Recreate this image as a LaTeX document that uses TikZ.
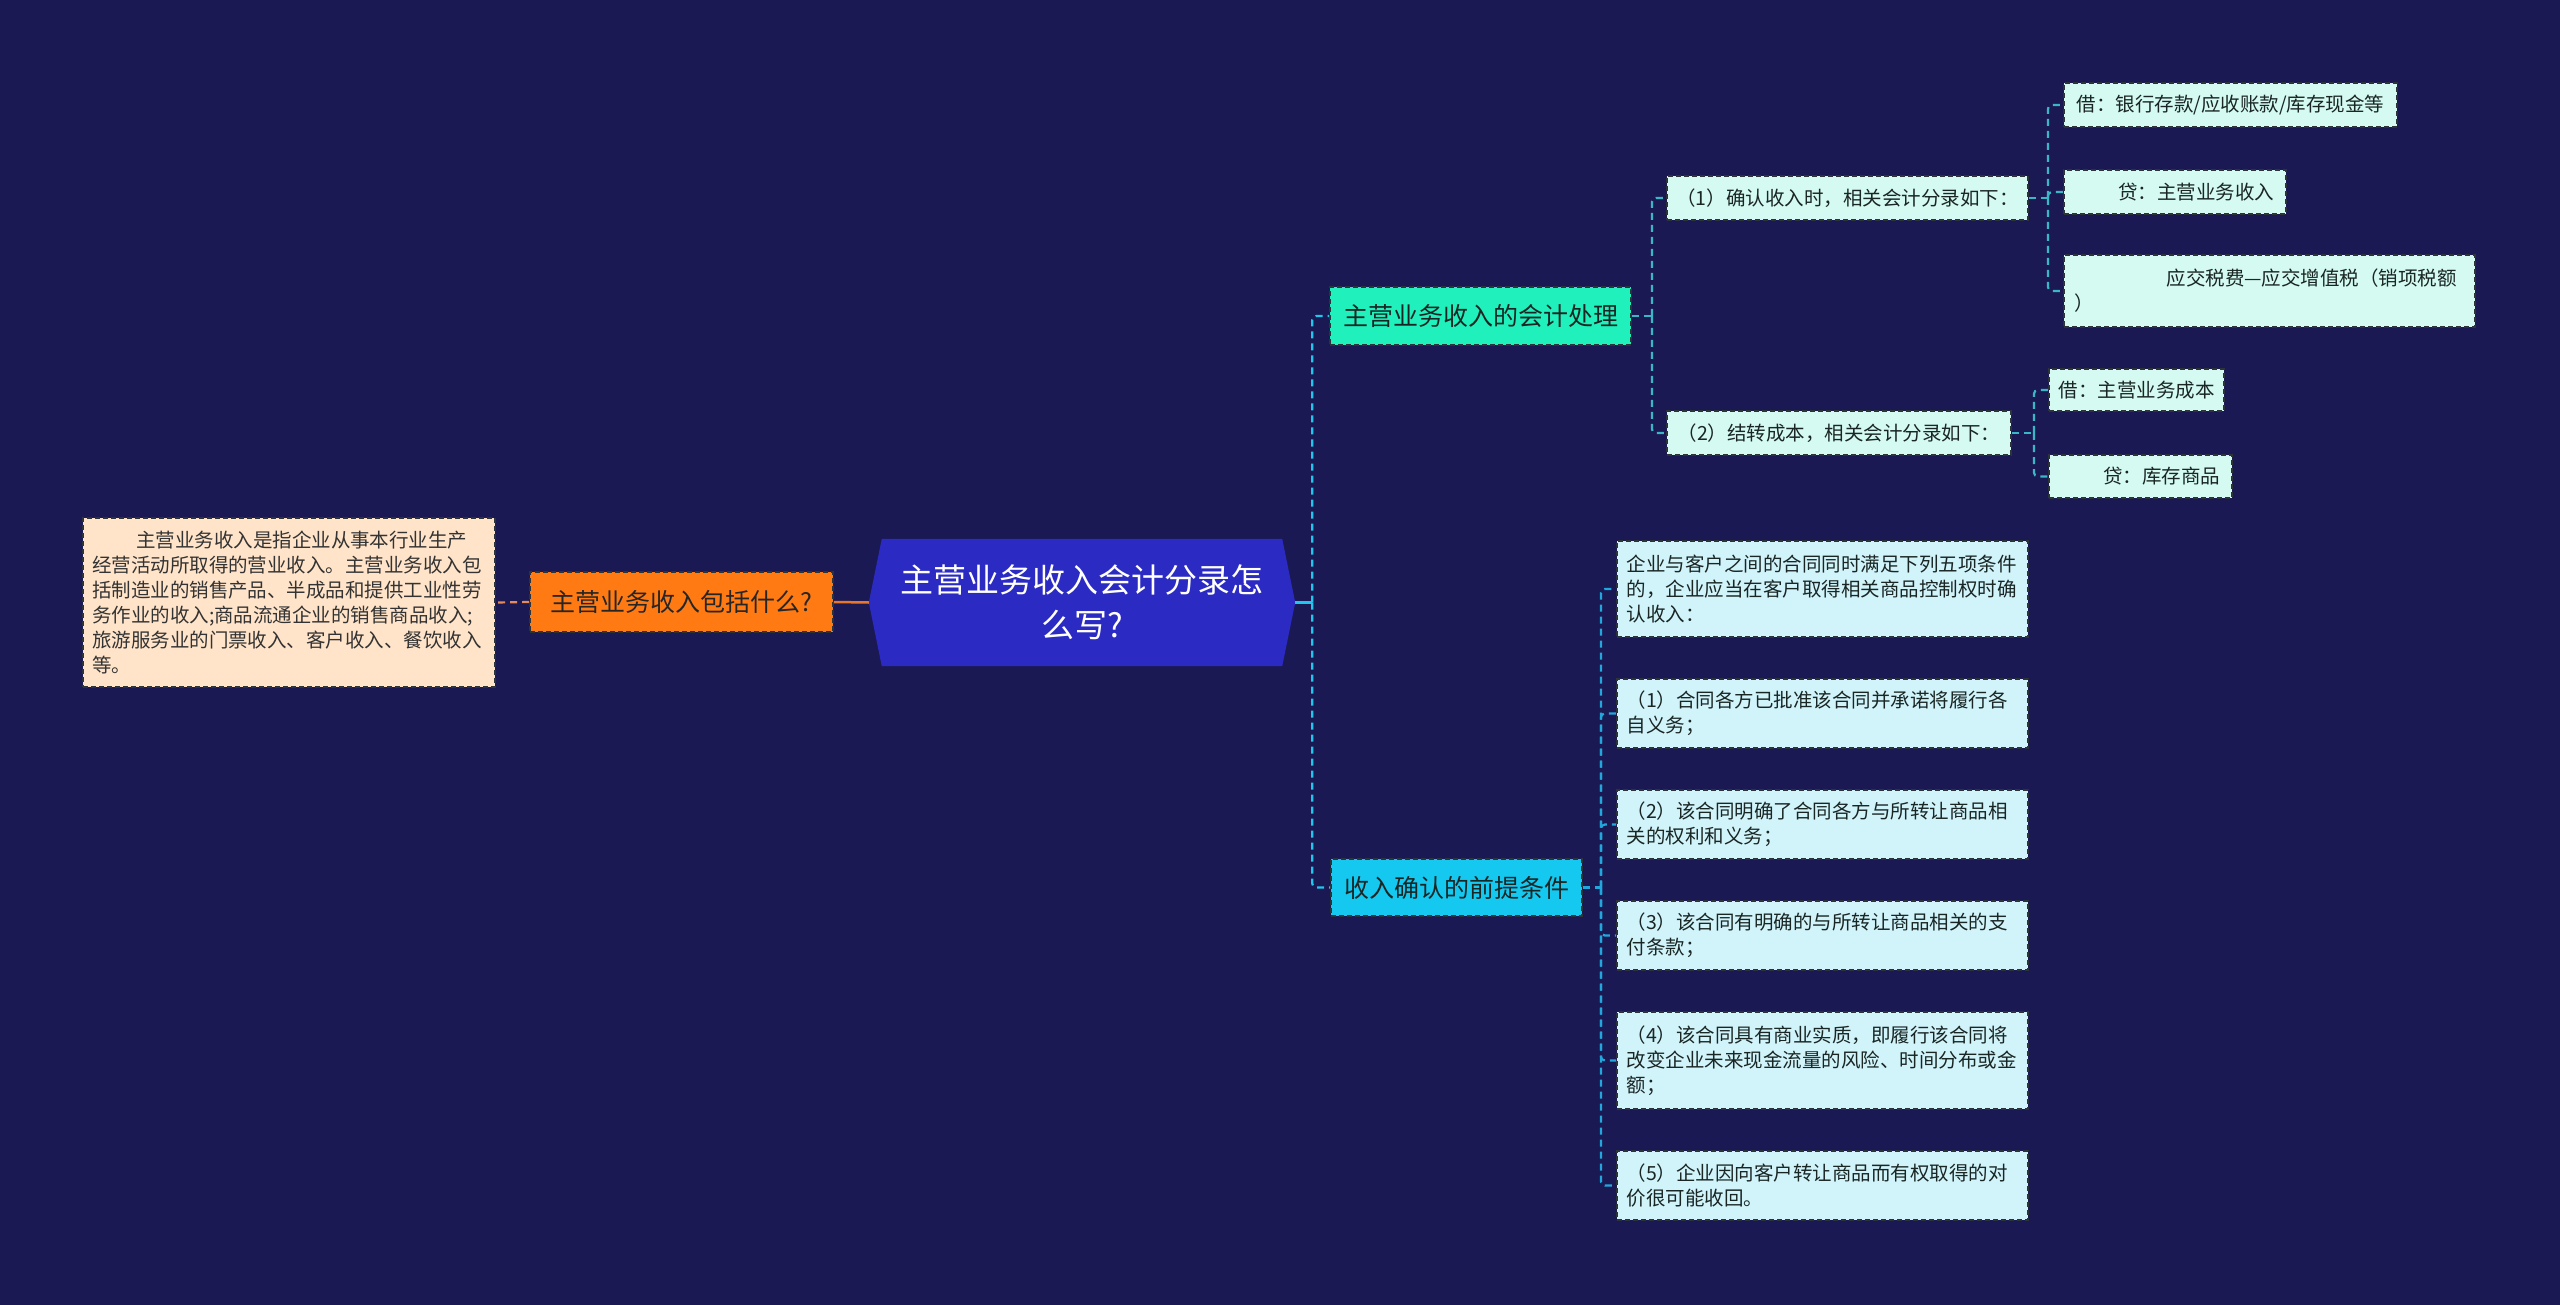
\documentclass[tikz,border=0pt]{standalone}
\usepackage{fontspec}
\setmainfont{Noto Sans CJK SC}
\usetikzlibrary{calc}
\definecolor{bgc}{HTML}{1A1953}
\definecolor{hexc}{HTML}{2B2BC3}
\definecolor{orangec}{HTML}{FF7A12}
\definecolor{peachc}{HTML}{FFE4C9}
\definecolor{tealc}{HTML}{20F0BC}
\definecolor{cyanc}{HTML}{14C8F0}
\definecolor{upfill}{HTML}{D4FAF1}
\definecolor{lofill}{HTML}{D1F4FB}
\definecolor{txt}{HTML}{1A2624}
\definecolor{boxline}{HTML}{2C3438}
\definecolor{trunkc}{HTML}{1FC6EE}
\definecolor{tealline}{HTML}{3AB7C6}
\definecolor{blueline}{HTML}{22A7DD}
\definecolor{orline}{HTML}{E8762A}
\definecolor{peachline}{HTML}{E58A5A}
\pgfdeclarelayer{bglayer}
\pgfsetlayers{bglayer,main}
\begin{document}
\begin{tikzpicture}[x=1pt,y=-1pt,
  lbox/.style={rectangle, draw=boxline, line width=1.8pt, dash pattern=on 5pt off 3pt,
    inner sep=0pt, font=\fontsize{19.5}{25}\selectfont, text=txt},
  upbox/.style={lbox, fill=upfill},
  lobox/.style={lbox, fill=lofill, minimum width=411pt, text width=392pt, align=left},
  topic/.style={lbox, font=\fontsize{25}{30}\selectfont},
  conn/.style={line width=2.2pt, dash pattern=on 7pt off 5pt, rounded corners=4pt},
  stub/.style={line width=2.5pt}
]
\useasboundingbox (0,0) rectangle (2560,1305);
\begin{pgfonlayer}{bglayer}
\fill[bgc] (0,0) rectangle (2560,1305);
\end{pgfonlayer}

% root
\node[minimum width=426pt, minimum height=127pt, inner sep=0pt, text=white,
  font=\fontsize{33}{45}\selectfont, align=center] (root) at (1082,602.5)
  {主营业务收入会计分录怎\\么写?};
\begin{pgfonlayer}{bglayer}
\fill[hexc] (root.west) -- ([xshift=13pt]root.north west) -- ([xshift=-13pt]root.north east)
  -- (root.east) -- ([xshift=-13pt]root.south east) -- ([xshift=13pt]root.south west) -- cycle;
\end{pgfonlayer}

% left side
\node[topic, fill=orangec, text=black!85, minimum width=303pt, minimum height=60pt] (inc) at (681.5,602)
  {主营业务收入包括什么?};
\node[lbox, fill=peachc, text=black!80, minimum width=412pt, minimum height=169pt,
  text width=394pt, align=left] (desc) at (289,602.5)
  {\hspace*{44pt}主营业务收入是指企业从事本行业生产\\
   经营活动所取得的营业收入。主营业务收入包\\
   括制造业的销售产品、半成品和提供工业性劳\\
   务作业的收入;商品流通企业的销售商品收入;\\
   旅游服务业的门票收入、客户收入、餐饮收入\\
   等。};

% level 1 right
\node[topic, fill=tealc, minimum width=301pt, minimum height=58pt] (acc) at (1480.5,316)
  {主营业务收入的会计处理};
\node[topic, fill=cyanc, minimum width=251pt, minimum height=57pt] (cond) at (1456.5,887.5)
  {收入确认的前提条件};

% accounting subtree
\node[upbox, minimum width=361pt, minimum height=44pt] (a1) at (1847.5,198)
  {（1）确认收入时，相关会计分录如下：};
\node[upbox, minimum width=344pt, minimum height=44pt] (a2) at (1839,433)
  {（2）结转成本，相关会计分录如下：};
\node[upbox, minimum width=333pt, minimum height=44pt] (a11) at (2230.5,105)
  {借：银行存款/应收账款/库存现金等};
\node[upbox, minimum width=222pt, minimum height=44pt, text width=198pt, align=right] (a12) at (2175,192)
  {贷：主营业务收入};
\node[upbox, minimum width=411pt, minimum height=72pt, text width=390pt, align=left] (a13) at (2269.5,291)
  {\hspace*{92pt}应交税费—应交增值税（销项税额\\）};
\node[upbox, minimum width=175pt, minimum height=42pt] (a21) at (2136.5,390)
  {借：主营业务成本};
\node[upbox, minimum width=183pt, minimum height=43pt, text width=159pt, align=right] (a22) at (2140.5,476.5)
  {贷：库存商品};

% condition subtree
\node[lobox, minimum height=96pt] (b0) at (1822.5,589)
  {企业与客户之间的合同同时满足下列五项条件\\的，企业应当在客户取得相关商品控制权时确\\认收入：};
\node[lobox, minimum height=69pt] (b1) at (1822.5,713.5)
  {（1）合同各方已批准该合同并承诺将履行各\\自义务；};
\node[lobox, minimum height=69pt] (b2) at (1822.5,824.5)
  {（2）该合同明确了合同各方与所转让商品相\\关的权利和义务；};
\node[lobox, minimum height=69pt] (b3) at (1822.5,935.5)
  {（3）该合同有明确的与所转让商品相关的支\\付条款；};
\node[lobox, minimum height=97pt] (b4) at (1822.5,1060.5)
  {（4）该合同具有商业实质，即履行该合同将\\改变企业未来现金流量的风险、时间分布或金\\额；};
\node[lobox, minimum height=69pt] (b5) at (1822.5,1185.5)
  {（5）企业因向客户转让商品而有权取得的对\\价很可能收回。};

% connectors left
\draw[stub, orline] (root.west) -- (inc.east);
\draw[conn, peachline] (inc.west) -- (desc.east);

% connectors right trunk
\draw[stub, trunkc] (root.east) -- ++(17,0) coordinate (tj);
\draw[conn, trunkc] (tj) |- (acc.west);
\draw[conn, trunkc] (tj) |- (cond.west);

% accounting
\draw[conn, tealline] (acc.east) -- ++(20,0) coordinate (k1);
\draw[conn, tealline] (k1) |- (a1.west);
\draw[conn, tealline] (k1) |- (a2.west);
\draw[conn, tealline] (a1.east) -- ++(19,0) coordinate (k2);
\draw[conn, tealline] (k2) |- (a11.west);
\draw[conn, tealline] (k2) |- (a12.west);
\draw[conn, tealline] (k2) |- (a13.west);
\draw[conn, tealline] (a2.east) -- ++(22,0) coordinate (k3);
\draw[conn, tealline] (k3) |- (a21.west);
\draw[conn, tealline] (k3) |- (a22.west);

% conditions
\draw[conn, blueline] (cond.east) -- ++(18,0) coordinate (k4);
\foreach \b in {b0,b1,b2,b3,b4,b5}
  \draw[conn, blueline] (k4) |- (\b.west);
\end{tikzpicture}
\end{document}
